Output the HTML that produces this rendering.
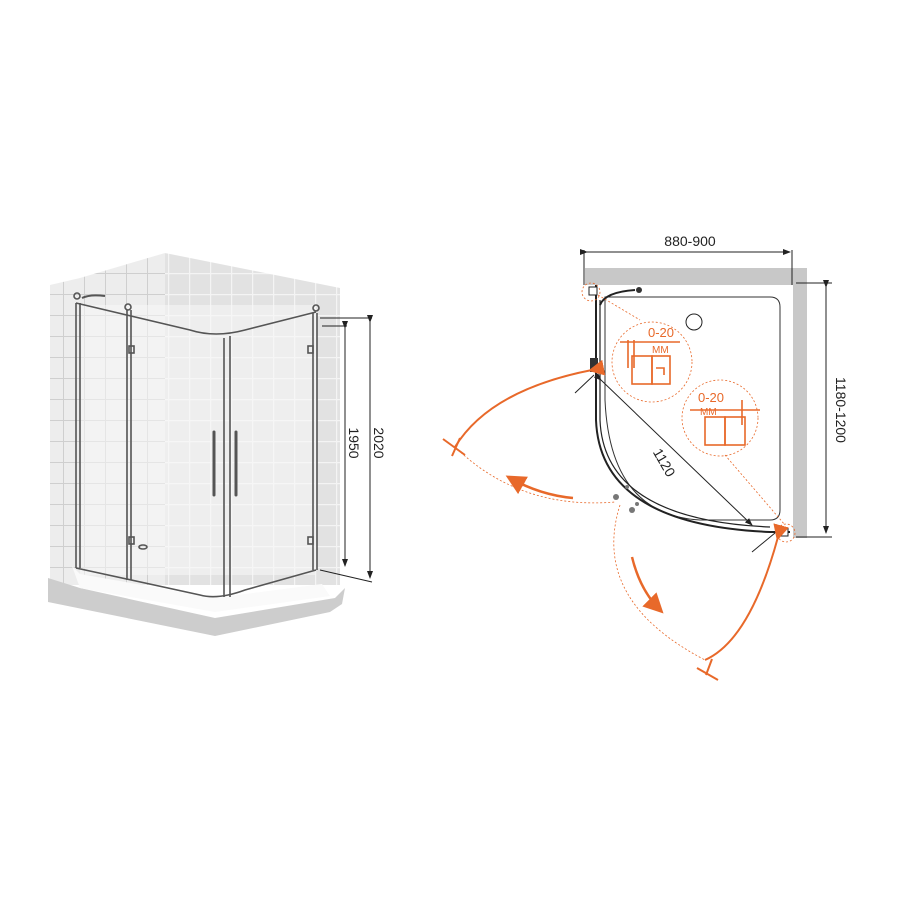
<!DOCTYPE html>
<html><head><meta charset="utf-8"><style>
html,body{margin:0;padding:0;background:#fff;width:900px;height:900px;overflow:hidden}
svg{display:block}
text{font-family:"Liberation Sans",sans-serif}
</style></head><body>
<svg width="900" height="900" viewBox="0 0 900 900" xmlns="http://www.w3.org/2000/svg">
<defs>
<pattern id="tile" width="21" height="21" patternUnits="userSpaceOnUse">
<rect width="21" height="21" fill="#ededed"/>
<path d="M0 0.5H21M0.5 0V21" stroke="#cfcfcf" stroke-width="1"/>
</pattern>
<pattern id="tile2" width="21" height="21" patternUnits="userSpaceOnUse">
<rect width="21" height="21" fill="#e2e2e2"/>
<path d="M0 0.5H21M0.5 0V21" stroke="#f4f4f4" stroke-width="1.5"/>
</pattern>
<marker id="ab" markerWidth="8" markerHeight="8" refX="7" refY="4" orient="auto"><path d="M0,1 L8,4 L0,7z" fill="#222"/></marker>
<marker id="ao" markerWidth="8" markerHeight="8" refX="6" refY="4" orient="auto"><path d="M0,0 L8,4 L0,8z" fill="#e8692a"/></marker>
</defs>
<polygon points="50,285 80,278 165,253 165,585 50,585" fill="url(#tile)"/>
<polygon points="165,253 340,288 340,585 165,585" fill="url(#tile2)"/>
<rect x="80" y="305" width="235" height="270" fill="#f7f7f7" opacity="0.55"/>
<polygon points="48,578 80,588 215,618 335,598 345,588 342,604 330,612 215,636 48,602" fill="#cdcdcd"/>
<polygon points="72,566 80,588 215,612 330,596 322,584 215,598 80,574" fill="#fafafa"/>
<g stroke="#555" stroke-width="1.6" fill="none">
<path d="M76,303 L76,568"/>
<path d="M80,303 L80,568"/>
<path d="M76,303 L190,330 Q215,338 245,330 L316,312"/>
<path d="M76,568 L200,595 Q218,600 245,590 L316,570"/>
<path d="M127,310 L127,580"/>
<path d="M131,310 L131,580"/>
<path d="M224,338 L224,597"/>
<path d="M230,336 L230,597"/>
<path d="M313,313 L313,570"/>
<path d="M317,313 L317,570"/>
<path d="M82,298 Q90,294 105,296" stroke-width="2"/>
<circle cx="77" cy="296" r="3"/><circle cx="128" cy="307" r="3"/><circle cx="316" cy="308" r="3"/>
<rect x="129" y="346" width="5" height="7"/><rect x="129" y="537" width="5" height="7"/>
<rect x="308" y="346" width="5" height="7"/><rect x="308" y="537" width="5" height="7"/>
<path d="M214,432 L214,495 M236,432 L236,495" stroke-width="3" stroke-linecap="round"/>
<ellipse cx="143" cy="547" rx="4" ry="2"/>
</g>
<g stroke="#222" stroke-width="1" fill="none">
<path d="M320,318 L372,318 M320,570 L372,582 M322,326 L347,326"/>
<path d="M345,328 L345,566" marker-start="url(#ab)" marker-end="url(#ab)"/>
<path d="M370,322 L370,578" marker-start="url(#ab)" marker-end="url(#ab)"/>
</g>
<text transform="translate(349,443) rotate(90)" font-size="14" text-anchor="middle" fill="#222">1950</text>
<text transform="translate(374,443) rotate(90)" font-size="14" text-anchor="middle" fill="#222">2020</text>
<rect x="585" y="268" width="222" height="17" fill="#c8c8c8"/>
<rect x="793" y="268" width="14" height="270" fill="#c8c8c8"/>
<rect x="585" y="285" width="208" height="253" fill="#fff"/>
<g stroke="#222" stroke-width="1" fill="none">
<path d="M584,250 L584,285 M792,250 L792,285 M796,283 L832,283 M796,537 L832,537"/>
<path d="M587,252 L790,252" marker-start="url(#ab)" marker-end="url(#ab)"/>
<path d="M826,287 L826,533" marker-start="url(#ab)" marker-end="url(#ab)"/>
<path d="M605,297 L770,297 Q780,297 780,307 L780,510 Q780,520 770,520 L700,520 Q610,515 605,400 Z" stroke="#333"/>
<circle cx="694" cy="322" r="8"/>
<path d="M596,285 L596,420 Q600,525 770,532 L790,532" stroke-width="2"/>
<path d="M600,300 L600,420 Q604,520 770,527" stroke-width="1.2"/>
<path d="M600,305 Q605,292 635,290" stroke-width="2"/>
<path d="M601,380 L752,525" marker-start="url(#ab)" marker-end="url(#ab)"/>
<path d="M575,393 L594,375 M752,552 L775,533"/>
</g>
<text x="690" y="246" font-size="14" text-anchor="middle" fill="#222">880-900</text>
<text transform="translate(836,410) rotate(90)" font-size="14" text-anchor="middle" fill="#222">1180-1200</text>
<text transform="translate(660,465) rotate(60)" font-size="14" text-anchor="middle" fill="#222">1120</text>
<rect x="589" y="287" width="8" height="8" fill="#fff" stroke="#222"/>
<rect x="590" y="358" width="8" height="14" fill="#333"/>
<circle cx="639" cy="290" r="3" fill="#333"/>
<rect x="778" y="528" width="10" height="8" fill="#fff" stroke="#222"/>
<g stroke="#e8692a" fill="none">
<circle cx="591" cy="292" r="9" stroke-dasharray="2,2" stroke-width="0.8"/>
<circle cx="786" cy="533" r="9" stroke-dasharray="2,2" stroke-width="0.8"/>
<circle cx="652" cy="362" r="40" stroke-dasharray="2,2" stroke-width="0.8"/>
<circle cx="720" cy="418" r="38" stroke-dasharray="2,2" stroke-width="0.8"/>
<path d="M598,295 L640,320 M725,455 L785,525" stroke-dasharray="2,2" stroke-width="0.8"/>
<path d="M455,447 Q520,510 615,502 M620,505 Q590,600 705,660" stroke-dasharray="2,2" stroke-width="0.8"/>
<path d="M592,370 Q490,390 455,447" stroke-width="2" marker-start="url(#ao)"/>
<path d="M778,537 Q750,640 705,660" stroke-width="2" marker-start="url(#ao)"/>
<path d="M573,498 Q540,495 510,478" stroke-width="2.5" marker-end="url(#ao)"/>
<path d="M632,557 Q640,590 660,610" stroke-width="2.5" marker-end="url(#ao)"/>
<path d="M443,439 L465,455 M452,456 L460,438 M697,668 L718,680 M706,675 L712,659" stroke-width="2"/>
<g stroke-width="1.6">
<path d="M628,340 L628,368 M634,340 L634,368 M620,342 L680,342"/>
<rect x="632" y="356" width="20" height="28"/><rect x="652" y="356" width="18" height="28"/>
<path d="M656,368 L664,368 L664,375"/>
<path d="M690,410 L760,410 M742,400 L742,425"/>
<rect x="705" y="417" width="20" height="28"/><rect x="725" y="417" width="20" height="28"/>
</g>
</g>
<g fill="#e8692a" font-size="13">
<text x="648" y="337">0-20</text>
<text x="652" y="353" font-size="10">MM</text>
<text x="698" y="402">0-20</text>
<text x="700" y="415" font-size="10">MM</text>
</g>
<g fill="#777"><circle cx="616" cy="497" r="3"/><circle cx="632" cy="510" r="3"/><circle cx="627" cy="487" r="2"/><circle cx="637" cy="504" r="2"/></g>
</svg>
</body></html>
